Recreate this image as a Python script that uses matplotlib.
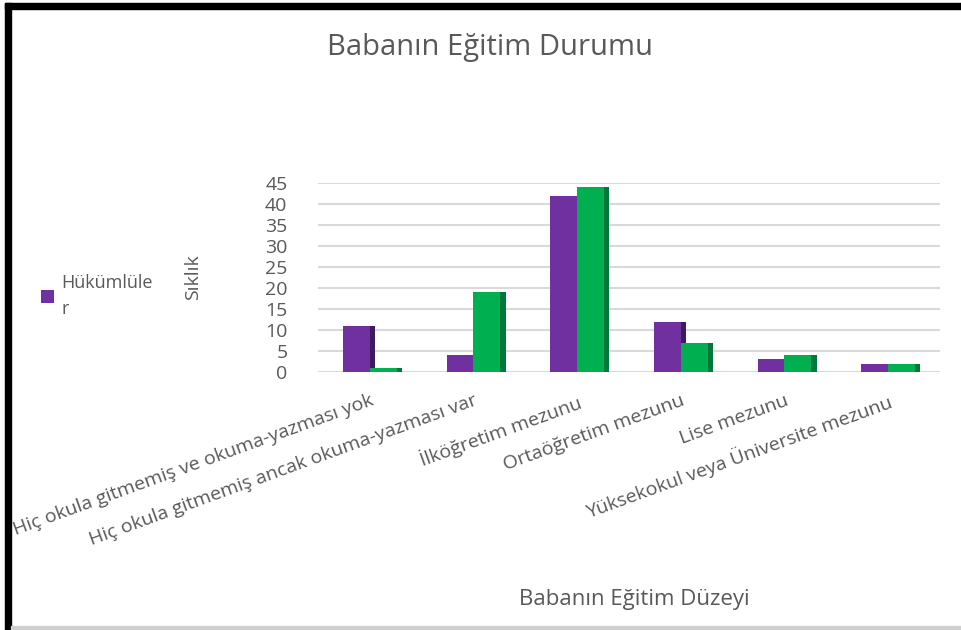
import numpy as np
import matplotlib
matplotlib.use("Agg")
import matplotlib.pyplot as plt
from matplotlib.patches import Rectangle

plt.rcParams['font.family'] = ['Open Sans', 'DejaVu Sans']

categories = ['Hiç okula gitmemiş ve okuma-yazması yok',
              'Hiç okula gitmemiş ancak okuma-yazması var',
              'İlköğretim mezunu',
              'Ortaöğretim mezunu',
              'Lise mezunu',
              'Yüksekokul veya Üniversite mezunu']
hukumluler = [11, 4, 42, 12, 3, 2]
diger = [1, 19, 44, 7, 4, 2]
yticks = [0, 5, 10, 15, 20, 25, 30, 35, 40, 45]

purple = '#7030a0'
green = '#00b050'
grey_text = '#595959'

fig = plt.figure(figsize=(9.62, 6.30), dpi=100)

# frame like the screenshot
fig.patches.append(Rectangle((5 / 962, 0), 6 / 962, 1 - 3 / 630, transform=fig.transFigure,
                             color='black', zorder=5))
fig.patches.append(Rectangle((5 / 962, 1 - 9 / 630), 1, 6 / 630, transform=fig.transFigure,
                             color='black', zorder=5))
fig.patches.append(Rectangle((11 / 962, 0), 1, 4 / 630, transform=fig.transFigure,
                             color='#d0d0d0', zorder=5))

ax = fig.add_axes([318 / 962, 1 - 372 / 630, 622 / 962, 189 / 630])

x = np.arange(len(categories))
w = 0.26
# side faces (simple 3D look)
ax.bar(x + 0.025, hukumluler, width=0.05, color='#3f1a5e', zorder=2)
ax.bar(x + w + 0.025, diger, width=0.05, color='#00783a', zorder=2)
bars1 = ax.bar(x - w / 2, hukumluler, width=w, color=purple, zorder=3)
ax.bar(x + w / 2, diger, width=w, color=green, zorder=4)

ax.set_ylim(0, 45)
ax.set_xlim(-0.5, len(categories) - 0.5)
ax.set_yticks(yticks)
ax.yaxis.grid(True, color='#d9d9d9', linewidth=1.5, zorder=0)
ax.set_axisbelow(True)
for s in ax.spines.values():
    s.set_visible(False)
ax.tick_params(axis='y', length=0, labelsize=14, labelcolor=grey_text, pad=22)
ax.tick_params(axis='x', length=0, labelsize=14, labelcolor=grey_text, pad=14)
ax.set_xticks(x)
ax.set_xticklabels(categories, rotation=20, ha='right', rotation_mode='anchor')

ax.set_ylabel('Sıklık', fontsize=14, color=grey_text, labelpad=45)
fig.text(634 / 962, 1 - 600 / 630, 'Babanın Eğitim Düzeyi', ha='center', va='center',
         fontsize=16, color=grey_text)
fig.text(490 / 962, 1 - 48 / 630, 'Babanın Eğitim Durumu', ha='center', va='center',
         fontsize=21, color=grey_text)

fig.legend(handles=[bars1], labels=['Hükümlüle\nr'], loc='center left',
           bbox_to_anchor=(25 / 962, 1 - 296 / 630), frameon=False, fontsize=13,
           labelcolor=grey_text, handlelength=0.7, handleheight=0.7, handletextpad=0.4,
           labelspacing=0.3)
for t in fig.legends[0].get_texts():
    t.set_linespacing(1.6)

fig.savefig('out.png', dpi=100)
